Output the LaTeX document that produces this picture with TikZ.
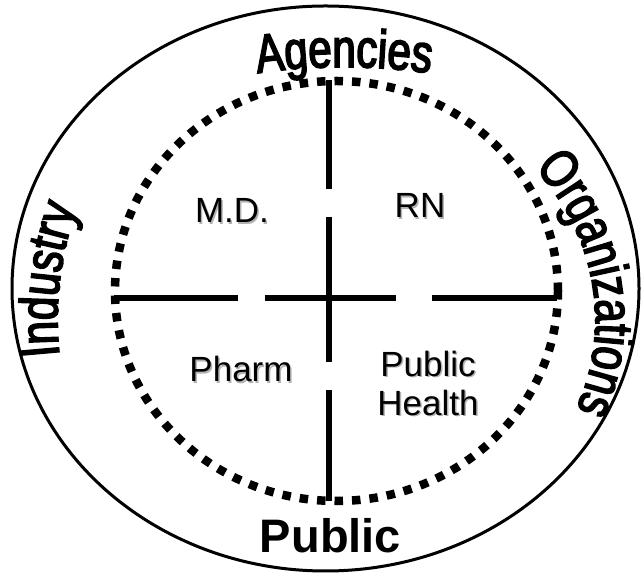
\documentclass[tikz,border=0pt]{standalone}
\usepackage{fontspec}
\setmainfont{Liberation Sans}
\newfontfamily\narrowfont[FakeStretch=0.78, FakeBold=3]{Liberation Sans}
\usetikzlibrary{decorations.text,calc}
\newcommand\curvefont{\narrowfont\fontsize{54}{60}\selectfont}
\newcommand\shd[1]{\leavevmode\rlap{\kern1.5pt\raisebox{-1.5pt}{\color{black!30}#1}}#1}
\tikzset{
  outerell/.style={line width=3pt},
  dotell/.style={line width=8.5pt, dash pattern=on 8.5pt off 9pt},
  crossline/.style={line width=6.5pt},
  inlabel/.style={inner sep=0pt, font=\fontsize{35}{39}\selectfont, align=center},
  bottomlabel/.style={inner sep=0pt, font=\fontsize{47}{54}\selectfont\bfseries},
  curvelabel/.style={decorate, decoration={text along path, text align=center}},
}
\begin{document}
\begin{tikzpicture}[x=1pt,y=1pt]
\fill[white] (0,0) rectangle (642,577);
\useasboundingbox (0,0) rectangle (642,577);
\coordinate (C) at (325.5,288.5);
\coordinate (D) at (336.5,286);
\coordinate (B) at (325.5,257);
% outer ellipse
\draw[outerell] (C) ellipse [x radius=313.5, y radius=282.5];
% dotted ellipse
\draw[dotell] (D) ellipse [x radius=221.5, y radius=210];
% cross
\coordinate (v1) at (329,497);
\coordinate (v2) at (329,388);
\coordinate (v3) at (329,360);
\coordinate (v4) at (329,215);
\coordinate (v5) at (329,187);
\coordinate (v6) at (329,76);
\coordinate (h1) at (114,279);
\coordinate (h2) at (238,279);
\coordinate (h3) at (265,279);
\coordinate (h4) at (396,279);
\coordinate (h5) at (432,279);
\coordinate (h6) at (557,279);
\draw[crossline] (v1) -- (v2);
\draw[crossline] (v3) -- (v4);
\draw[crossline] (v5) -- (v6);
\draw[crossline] (h1) -- (h2);
\draw[crossline] (h3) -- (h4);
\draw[crossline] (h5) -- (h6);
% inner labels
\node[inlabel, anchor=base] (md) at (232,354) {\shd{M.D.}};
\node[inlabel, anchor=base] (rn) at (420,359) {\shd{RN}};
\node[inlabel, anchor=base] (pharm) at (241,195) {\shd{Pharm}};
\node[inlabel, anchor=center] (ph) at (428,193) {\shd{Public}\\\shd{Health}};
% bottom label
\node[bottomlabel, anchor=base] (public) at (330.5,24) {Public};
% curved labels
\path[curvelabel, decoration={text={|\curvefont|Agencies}}]
  ($(344,-90)+(104:600)$) arc[start angle=104, end angle=76, radius=600];
\path[curvelabel, decoration={text={|\curvefont|Industry}}]
  ($(B)+(217.1:268 and 300)$) arc[start angle=217.1, end angle=127.1, x radius=268, y radius=300];
\path[curvelabel, decoration={text={|\curvefont|Organizations}}]
  ($(B)+(58.4:270 and 240)$) arc[start angle=58.4, end angle=-41.6, x radius=270, y radius=240];
\end{tikzpicture}
\end{document}
